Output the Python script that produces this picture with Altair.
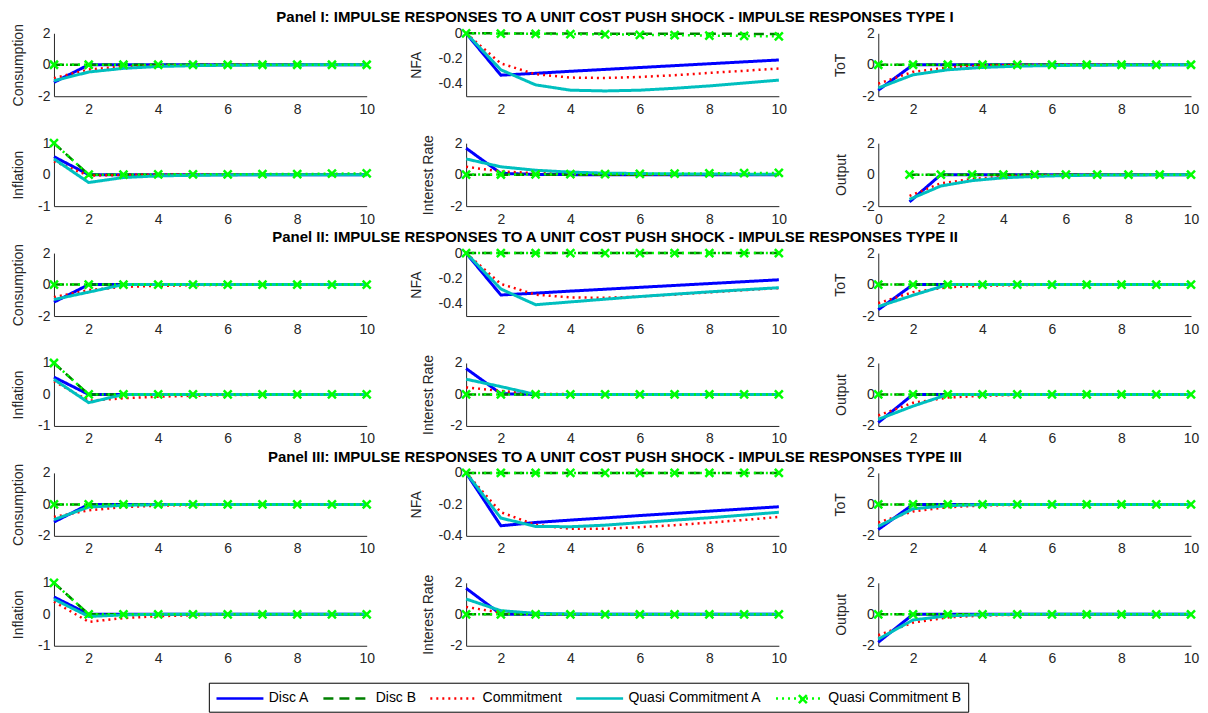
import altair as alt
import pandas as pd

FONT = "Liberation Sans"
TIME = [1, 2, 3, 4, 5, 6, 7, 8, 9, 10]
SERIES = ["Disc A", "Disc B", "Commitment", "Quasi Commitment A", "Quasi Commitment B"]
COLORS = ["#0000ff", "#008000", "#ff0000", "#00bfbf", "#00ff00"]
DASHES = [[1, 0], [10, 6], [2, 4], [1, 0], [2, 4]]
WIDTHS = [3, 2.5, 2.5, 3, 2.5]
ZERO = [0, 0, 0, 0, 0, 0, 0, 0, 0, 0]

TITLES = [
    "Panel I: IMPULSE RESPONSES TO A UNIT COST PUSH SHOCK - IMPULSE RESPONSES TYPE I",
    "Panel II: IMPULSE RESPONSES TO A UNIT COST PUSH SHOCK - IMPULSE RESPONSES TYPE II",
    "Panel III: IMPULSE RESPONSES TO A UNIT COST PUSH SHOCK - IMPULSE RESPONSES TYPE III",
]

# ---------------- Panel I ----------------
P1_CONSUMPTION = {
    "Disc A": [-1.12, 0, 0, 0, 0, 0, 0, 0, 0, 0],
    "Disc B": ZERO,
    "Commitment": [-0.85, -0.30, -0.12, -0.05, -0.02, -0.01, 0, 0, 0, 0],
    "Quasi Commitment A": [-1.02, -0.46, -0.23, -0.11, -0.06, -0.03, -0.02, -0.01, 0, 0],
    "Quasi Commitment B": ZERO,
}
P1_NFA = {
    "Disc A": [0, -0.333, -0.318, -0.302, -0.287, -0.272, -0.257, -0.242, -0.227, -0.212],
    "Disc B": [0, -0.001, -0.002, -0.002, -0.003, -0.003, -0.004, -0.004, -0.005, -0.005],
    "Commitment": [0, -0.24, -0.325, -0.352, -0.355, -0.347, -0.333, -0.315, -0.298, -0.28],
    "Quasi Commitment A": [0, -0.29, -0.41, -0.452, -0.458, -0.452, -0.437, -0.418, -0.395, -0.372],
    "Quasi Commitment B": [0, -0.002, -0.004, -0.006, -0.009, -0.012, -0.015, -0.018, -0.021, -0.025],
}
P1_TOT = {
    "Disc A": [-1.62, 0, 0, 0, 0, 0, 0, 0, 0, 0],
    "Disc B": ZERO,
    "Commitment": [-1.2, -0.45, -0.17, -0.06, -0.02, -0.01, 0, 0, 0, 0],
    "Quasi Commitment A": [-1.48, -0.64, -0.32, -0.17, -0.09, -0.05, -0.03, -0.02, -0.01, 0],
    "Quasi Commitment B": ZERO,
}
P1_INFLATION = {
    "Disc A": [0.57, 0, 0, 0, 0, 0, 0, 0, 0, 0],
    "Disc B": [1.0, 0, 0, 0, 0, 0, 0, 0, 0, 0],
    "Commitment": [0.42, -0.03, -0.01, 0, 0, 0, 0, 0, 0, 0],
    "Quasi Commitment A": [0.50, -0.25, -0.09, -0.04, -0.02, -0.01, 0, 0, 0, 0],
    "Quasi Commitment B": [1.0, 0, 0, 0.01, 0.01, 0.01, 0.02, 0.02, 0.03, 0.04],
}
P1_INTEREST = {
    "Disc A": [1.68, 0.08, 0.02, 0, 0, 0, 0, 0, 0, 0],
    "Disc B": ZERO,
    "Commitment": [0.5, 0.2, 0.1, 0.05, 0.03, 0.02, 0.01, 0.01, 0, 0],
    "Quasi Commitment A": [1.0, 0.5, 0.28, 0.16, 0.1, 0.07, 0.05, 0.04, 0.03, 0.03],
    "Quasi Commitment B": [0, 0.01, 0.02, 0.03, 0.04, 0.05, 0.07, 0.08, 0.1, 0.11],
}
P1_OUTPUT = {
    "Disc A": [-1.73, 0, 0, 0, 0, 0, 0, 0, 0, 0],
    "Disc B": ZERO,
    "Commitment": [-1.35, -0.55, -0.28, -0.12, -0.05, -0.02, -0.01, 0, 0, 0],
    "Quasi Commitment A": [-1.57, -0.72, -0.38, -0.2, -0.11, -0.06, -0.03, -0.02, -0.01, 0],
    "Quasi Commitment B": ZERO,
}

# ---------------- Panel II ----------------
P2_CONSUMPTION = {
    "Disc A": [-1.12, 0, 0, 0, 0, 0, 0, 0, 0, 0],
    "Disc B": ZERO,
    "Commitment": [-0.8, -0.35, -0.15, -0.08, -0.04, -0.02, -0.01, 0, 0, 0],
    "Quasi Commitment A": [-0.95, -0.48, 0, 0, 0, 0, 0, 0, 0, 0],
    "Quasi Commitment B": ZERO,
}
P2_NFA = {
    "Disc A": [0, -0.333, -0.318, -0.302, -0.287, -0.272, -0.257, -0.242, -0.227, -0.212],
    "Disc B": ZERO,
    "Commitment": [0, -0.245, -0.33, -0.352, -0.355, -0.345, -0.33, -0.312, -0.295, -0.278],
    "Quasi Commitment A": [0, -0.285, -0.41, -0.388, -0.366, -0.345, -0.326, -0.308, -0.291, -0.275],
    "Quasi Commitment B": ZERO,
}
P2_TOT = {
    "Disc A": [-1.6, 0, 0, 0, 0, 0, 0, 0, 0, 0],
    "Disc B": ZERO,
    "Commitment": [-1.18, -0.48, -0.17, -0.07, -0.03, -0.01, 0, 0, 0, 0],
    "Quasi Commitment A": [-1.4, -0.68, 0, 0, 0, 0, 0, 0, 0, 0],
    "Quasi Commitment B": ZERO,
}
P2_INFLATION = {
    "Disc A": [0.55, 0, 0, 0, 0, 0, 0, 0, 0, 0],
    "Disc B": [1.0, 0, 0, 0, 0, 0, 0, 0, 0, 0],
    "Commitment": [0.42, -0.2, -0.12, -0.07, -0.04, -0.02, -0.01, 0, 0, 0],
    "Quasi Commitment A": [0.48, -0.26, 0, 0, 0, 0, 0, 0, 0, 0],
    "Quasi Commitment B": [1.0, 0, 0, 0, 0, 0, 0, 0, 0, 0],
}
P2_INTEREST = {
    "Disc A": [1.65, 0.05, 0, 0, 0, 0, 0, 0, 0, 0],
    "Disc B": ZERO,
    "Commitment": [0.45, 0.22, 0.05, 0.02, 0.01, 0, 0, 0, 0, 0],
    "Quasi Commitment A": [0.97, 0.5, 0, 0, 0, 0, 0, 0, 0, 0],
    "Quasi Commitment B": ZERO,
}
P2_OUTPUT = {
    "Disc A": [-1.78, 0, 0, 0, 0, 0, 0, 0, 0, 0],
    "Disc B": ZERO,
    "Commitment": [-1.33, -0.53, -0.2, -0.08, -0.03, -0.01, 0, 0, 0, 0],
    "Quasi Commitment A": [-1.58, -0.74, 0, 0, 0, 0, 0, 0, 0, 0],
    "Quasi Commitment B": ZERO,
}

# ---------------- Panel III ----------------
P3_CONSUMPTION = {
    "Disc A": [-1.12, 0, 0, 0, 0, 0, 0, 0, 0, 0],
    "Disc B": ZERO,
    "Commitment": [-0.8, -0.38, -0.17, -0.08, -0.04, -0.02, -0.01, 0, 0, 0],
    "Quasi Commitment A": [-0.97, -0.17, -0.06, -0.02, 0, 0, 0, 0, 0, 0],
    "Quasi Commitment B": ZERO,
}
P3_NFA = {
    "Disc A": [0, -0.336, -0.315, -0.3, -0.286, -0.271, -0.257, -0.243, -0.229, -0.215],
    "Disc B": ZERO,
    "Commitment": [0, -0.25, -0.33, -0.355, -0.355, -0.345, -0.332, -0.316, -0.299, -0.28],
    "Quasi Commitment A": [0, -0.287, -0.34, -0.342, -0.332, -0.316, -0.3, -0.285, -0.268, -0.25],
    "Quasi Commitment B": ZERO,
}
P3_TOT = {
    "Disc A": [-1.6, 0, 0, 0, 0, 0, 0, 0, 0, 0],
    "Disc B": ZERO,
    "Commitment": [-1.15, -0.45, -0.18, -0.07, -0.03, -0.01, 0, 0, 0, 0],
    "Quasi Commitment A": [-1.4, -0.28, -0.08, -0.02, 0, 0, 0, 0, 0, 0],
    "Quasi Commitment B": ZERO,
}
P3_INFLATION = {
    "Disc A": [0.55, 0, 0, 0, 0, 0, 0, 0, 0, 0],
    "Disc B": [1.0, 0, 0, 0, 0, 0, 0, 0, 0, 0],
    "Commitment": [0.4, -0.24, -0.12, -0.06, -0.03, -0.01, 0, 0, 0, 0],
    "Quasi Commitment A": [0.48, -0.07, -0.02, 0, 0, 0, 0, 0, 0, 0],
    "Quasi Commitment B": [1.0, 0, 0, 0, 0, 0, 0, 0, 0, 0],
}
P3_INTEREST = {
    "Disc A": [1.65, 0, 0, 0, 0, 0, 0, 0, 0, 0],
    "Disc B": ZERO,
    "Commitment": [0.47, 0.1, 0.02, 0, 0, 0, 0, 0, 0, 0],
    "Quasi Commitment A": [0.97, 0.23, 0.06, 0.02, 0, 0, 0, 0, 0, 0],
    "Quasi Commitment B": ZERO,
}
P3_OUTPUT = {
    "Disc A": [-1.78, 0, 0, 0, 0, 0, 0, 0, 0, 0],
    "Disc B": ZERO,
    "Commitment": [-1.33, -0.53, -0.2, -0.08, -0.03, -0.01, 0, 0, 0, 0],
    "Quasi Commitment A": [-1.58, -0.36, -0.1, -0.03, 0, 0, 0, 0, 0, 0],
    "Quasi Commitment B": ZERO,
}

X_TICKS = [2, 4, 6, 8, 10]
X_TICKS0 = [0, 2, 4, 6, 8, 10]
Y2 = ([-2, 2], [-2, 0, 2])
Y1 = ([-1, 1], [-1, 0, 1])
YN5 = ([-0.5, 0], [-0.4, -0.2, 0])
YN4 = ([-0.4, 0], [-0.4, -0.2, 0])

# (values, y title, y scale, x domain, x ticks, y-title offset, title index)
PANELS = [
    (P1_CONSUMPTION, "Consumption", Y2, [1, 10], X_TICKS, 35, None),
    (P1_NFA, "NFA", YN5, [1, 10], X_TICKS, 50, 0),
    (P1_TOT, "ToT", Y2, [1, 10], X_TICKS, 38, None),
    (P1_INFLATION, "Inflation", Y1, [1, 10], X_TICKS, 35.5, None),
    (P1_INTEREST, "Interest Rate", Y2, [1, 10], X_TICKS, 37.5, None),
    (P1_OUTPUT, "Output", Y2, [0, 10], X_TICKS0, 37, None),
    (P2_CONSUMPTION, "Consumption", Y2, [1, 10], X_TICKS, 35, None),
    (P2_NFA, "NFA", YN5, [1, 10], X_TICKS, 50, 1),
    (P2_TOT, "ToT", Y2, [1, 10], X_TICKS, 38, None),
    (P2_INFLATION, "Inflation", Y1, [1, 10], X_TICKS, 35.5, None),
    (P2_INTEREST, "Interest Rate", Y2, [1, 10], X_TICKS, 37.5, None),
    (P2_OUTPUT, "Output", Y2, [1, 10], X_TICKS, 37, None),
    (P3_CONSUMPTION, "Consumption", Y2, [1, 10], X_TICKS, 35, None),
    (P3_NFA, "NFA", YN4, [1, 10], X_TICKS, 50, 2),
    (P3_TOT, "ToT", Y2, [1, 10], X_TICKS, 38, None),
    (P3_INFLATION, "Inflation", Y1, [1, 10], X_TICKS, 35.5, None),
    (P3_INTEREST, "Interest Rate", Y2, [1, 10], X_TICKS, 37.5, None),
    (P3_OUTPUT, "Output", Y2, [1, 10], X_TICKS, 37, None),
]

XPATH = "M-1,-1L1,1M-1,1L1,-1"
# long horizontal legend line: symbol box is sqrt(size) wide, path runs 3 box-widths
LEG_LINE = "M-1,0L5,0"

LEG = alt.Legend(
    title=None, orient="none", legendX=155, legendY=650, direction="horizontal",
    columns=5, symbolType=LEG_LINE, symbolSize=245, symbolStrokeWidth=2.5,
    labelFont=FONT, labelFontSize=14, labelColor="#000000", labelOffset=35,
    columnPadding=8, padding=6, strokeColor="#000000", fillColor="#ffffff",
    labelLimit=400,
)

# x marker drawn on the "Quasi Commitment B" legend line
LEG_X = alt.Legend(
    title=None, orient="none", legendX=744, legendY=661, padding=0,
    symbolStrokeColor="#00ff00", symbolStrokeWidth=2.5, symbolFillColor="transparent",
    symbolSize=64, labelExpr="''", labelFontSize=1, labelOffset=0,
)


def make_panel(values, ytitle, yscale, xdom, xticks, ytx, tidx):
    rows = []
    for s in SERIES:
        for t, v in zip(TIME, values[s]):
            rows.append({"t": t, "v": v, "series": s, "marker": s})
    df = pd.DataFrame(rows)
    base = alt.Chart(df)
    x = alt.X("t:Q", scale=alt.Scale(domain=xdom, nice=False, zero=False),
              axis=alt.Axis(values=xticks, title=None, format="d"))
    y = alt.Y("v:Q", scale=alt.Scale(domain=yscale[0], nice=False, zero=False),
              axis=alt.Axis(values=yscale[1], title=ytitle, titleX=-ytx, format="~g",
                            titleBaseline="middle"))
    layers = []
    for i, s in enumerate(SERIES):
        layers.append(
            base.transform_filter(alt.datum.series == s)
            .mark_line(strokeWidth=WIDTHS[i], strokeCap="butt")
            .encode(
                x=x, y=y,
                color=alt.Color("series:N", scale=alt.Scale(domain=SERIES, range=COLORS), legend=LEG),
                strokeDash=alt.StrokeDash("series:N", scale=alt.Scale(domain=SERIES, range=DASHES), legend=LEG),
            )
        )
    pts = (
        base.transform_filter(alt.datum.series == SERIES[4])
        .mark_point(filled=False, color="#00ff00", strokeWidth=2.5, size=64, opacity=1)
        .encode(
            x=x, y=y,
            shape=alt.Shape("marker:N", scale=alt.Scale(domain=[SERIES[4]], range=[XPATH]), legend=LEG_X),
        )
    )
    ch = alt.layer(*layers, pts).properties(width=313, height=63)
    if tidx is not None:
        ch = ch.properties(title=alt.TitleParams(
            TITLES[tidx], font=FONT, fontSize=15, fontWeight="bold", color="#000000",
            anchor="middle", frame="group", dx=-7.5, offset=-1))
    return ch


charts = [make_panel(*p) for p in PANELS]

chart = (
    alt.concat(*charts, columns=3, spacing={"row": 47, "column": 99.5}, bounds="flush")
    .resolve_scale(x="independent", y="independent", color="shared", strokeDash="shared",
                   shape="shared")
    .properties(padding={"left": 3, "top": 2, "right": 0, "bottom": 0})
    .configure(locale={"number": {"decimal": ".", "thousands": ",", "grouping": [3],
                                  "currency": ["$", ""], "minus": "-"}})
    .configure_view(stroke=None)
    .configure_axis(
        domainColor="#262626", domainWidth=1, labelColor="#262626", titleColor="#262626",
        labelFont=FONT, titleFont=FONT, labelFontSize=14, titleFontSize=14,
        titleFontWeight="normal", ticks=False, grid=False, labelFlush=False,
    )
    .configure_axisX(labelPadding=6)
    .configure_axisY(labelPadding=4)
)

chart.save("out.html", embed_options={"renderer": "svg", "actions": False})
